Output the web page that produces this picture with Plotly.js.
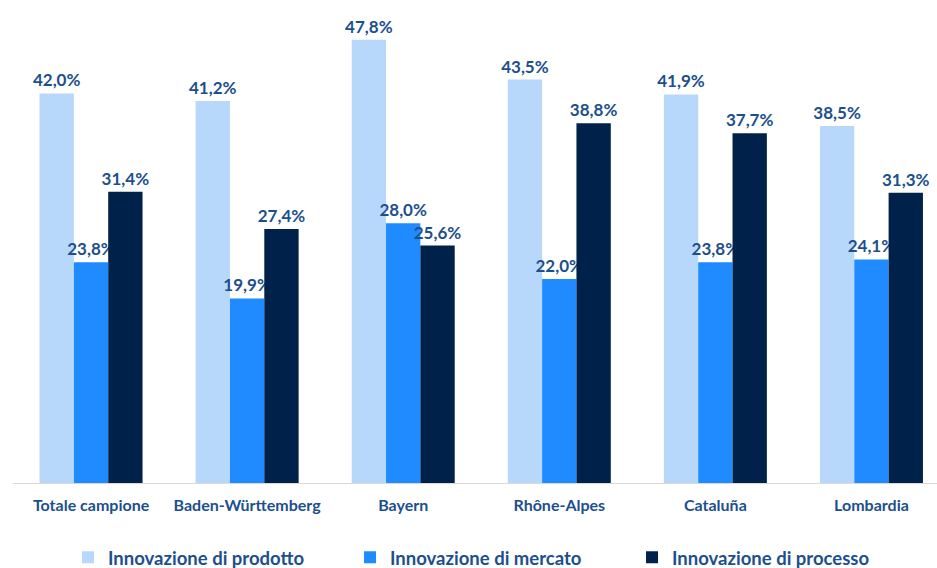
<!DOCTYPE html>
<html><head><meta charset="utf-8">
<script src="https://cdn.plot.ly/plotly-3.0.1.min.js"></script>
<style>html,body{margin:0;padding:0;background:#fff}#chart{width:937px;height:568px}</style>
</head><body><div id="chart"></div>
<script>
const categories = ["Totale campione","Baden-Württemberg","Bayern","Rhône-Alpes","Cataluña","Lombardia"];
const seriesNames = ["Innovazione di prodotto","Innovazione di mercato","Innovazione di processo"];
const prodotto = [42.0, 41.2, 47.8, 43.5, 41.9, 38.5];
const mercato = [23.8, 19.9, 28.0, 22.0, 23.8, 24.1];
const processo = [31.4, 27.4, 25.6, 38.8, 37.7, 31.3];
const colors = ["#B8D8FB", "#1F8BFF", "#00224A"];
const labelColor = "#1C4F8E";
const font = "Lato, 'Open Sans', sans-serif";

const traces = [prodotto, mercato, processo].map((vals, i) => ({
  type: "bar", name: "<b>" + seriesNames[i] + "</b>", x: categories, y: vals,
  marker: {color: colors[i]},
  texttemplate: "<b>%{y:.1f}%</b>", textposition: "outside", cliponaxis: false,
  constraintext: "none",
  textfont: {family: font, size: 17, color: labelColor},
  hoverinfo: "skip"
}));

const layout = {
  width: 937, height: 568,
  margin: {l: 13, r: 0, t: 10, b: 85, autoexpand: false},
  separators: ",.",
  barmode: "group", bargap: 0.34, bargroupgap: 0,
  paper_bgcolor: "#fff", plot_bgcolor: "#fff",
  showlegend: true,
  legend: {orientation: "h", xref: "container", x: 0.0726, xanchor: "left", yref: "container", y: 0.018, yanchor: "middle",
    font: {family: font, size: 18.5, color: labelColor}, traceorder: "normal",
    entrywidthmode: "pixels", entrywidth: 237},
  xaxis: {range: [-0.5, 5.42], showgrid: false, zeroline: false, showline: true,
    linecolor: "#D9D9D9", linewidth: 1, ticks: "", fixedrange: true, ticklabelstandoff: 8,
    tickfont: {family: font, size: 16, color: labelColor}},
  yaxis: {range: [0, 51], visible: false, showgrid: false, zeroline: false, fixedrange: true}
};
layout.xaxis.tickvals = categories;
layout.xaxis.ticktext = categories.map(c => "<b>" + c + "</b>");

Plotly.newPlot("chart", traces, layout, {displayModeBar: false, staticPlot: true});
</script></body></html>
